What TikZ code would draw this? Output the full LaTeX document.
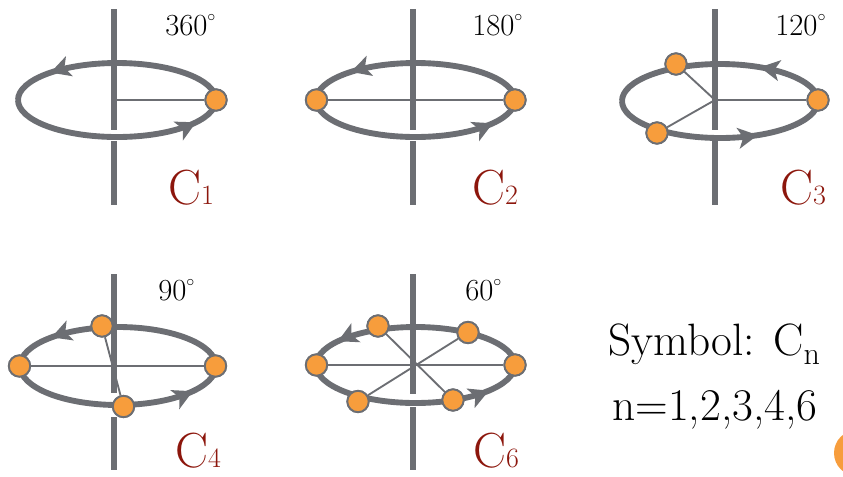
\documentclass[tikz,border=0pt]{standalone}
\usetikzlibrary{arrows.meta,decorations.markings}
\definecolor{axgray}{RGB}{108,110,115}
\definecolor{ptorange}{RGB}{247,157,60}
\definecolor{lblred}{RGB}{140,22,12}
\tikzset{
  axisline/.style={draw=axgray,line width=4.8pt},
  orbit/.style={draw=axgray,line width=4.4pt},
  spoke/.style={draw=axgray,line width=1.4pt},
  atom/.style={circle,fill=ptorange,draw=axgray,line width=1.4pt,minimum size=16pt,inner sep=0pt},
  arrowat/.style={postaction={decorate,decoration={markings,mark=at position #1 with {\arrow{Stealth[length=15pt,width=16pt,inset=4pt,line width=0pt]}}}}},
  deg/.style={anchor=base west,inner sep=0pt,font=\fontsize{23}{26}\selectfont},
  clabel/.style={anchor=base west,inner sep=0pt,text=lblred},
  bigtext/.style={anchor=base west,inner sep=0pt,font=\fontsize{34}{38}\selectfont},
}
\newcommand{\clab}[1]{{\fontsize{37}{40}\selectfont C}{\fontsize{21}{24}\selectfont #1}}
\newcommand{\degring}{\raisebox{1pt}{$^{\scriptscriptstyle\circ}$}}
\begin{document}
\begin{tikzpicture}[x=0.75pt,y=-0.75pt]
\useasboundingbox (0,0) rectangle (843,476);
\clip (0,0) rectangle (843,476);
% ---------- C1 ----------
\draw[orbit,arrowat=0.80] (216,100) arc[start angle=0,end angle=180,x radius=74.25pt,y radius=27.75pt];
\coordinate (a1t) at (114,9); \coordinate (a1m) at (114,130);
\coordinate (a1n) at (114,141); \coordinate (a1b) at (114,205);
\draw[axisline] (a1t) -- (a1m); \draw[axisline] (a1n) -- (a1b);
\coordinate (c1) at (114,100);
\node[atom] (p11) at (216,100) {};
\draw[spoke] (c1) -- (p11);
\draw[orbit,arrowat=0.86] (18,100) arc[start angle=180,end angle=360,x radius=74.25pt,y radius=27.75pt];
\node[atom] at (p11) {};
\node[deg] (d1) at (165,35) {360\degring};
\node[clabel] (l1) at (168,204) {\clab{1}};
% ---------- C2 ----------
\draw[orbit,arrowat=0.79] (515,100) arc[start angle=0,end angle=180,x radius=74.6pt,y radius=27.75pt];
\coordinate (a2t) at (413,9); \coordinate (a2m) at (413,130);
\coordinate (a2n) at (413,141); \coordinate (a2b) at (413,205);
\draw[axisline] (a2t) -- (a2m); \draw[axisline] (a2n) -- (a2b);
\node[atom] (p21) at (316.5,100) {};
\node[atom] (p22) at (515,100) {};
\draw[spoke] (p21) -- (p22);
\draw[orbit,arrowat=0.85] (316,100) arc[start angle=180,end angle=360,x radius=74.6pt,y radius=27.75pt];
\node[atom] at (p21) {}; \node[atom] at (p22) {};
\node[deg] (d2) at (472,35) {180\degring};
\node[clabel] (l2) at (472,204) {\clab{2}};
% ---------- C3 ----------
\draw[orbit,arrowat=0.32] (818,101) arc[start angle=0,end angle=180,x radius=73.5pt,y radius=27.75pt];
\coordinate (a3t) at (715,9); \coordinate (a3m) at (715,130);
\coordinate (a3n) at (715,141); \coordinate (a3b) at (715,205);
\draw[axisline] (a3t) -- (a3m); \draw[axisline] (a3n) -- (a3b);
\coordinate (c3) at (715,100);
\node[atom] (p31) at (818,100) {};
\node[atom] (p32) at (676,64) {};
\node[atom] (p33) at (657,133) {};
\draw[spoke] (c3) -- (p31); \draw[spoke] (c3) -- (p32); \draw[spoke] (c3) -- (p33);
\draw[orbit,arrowat=0.67] (622,101) arc[start angle=180,end angle=360,x radius=73.5pt,y radius=27.75pt];
\node[atom] at (p31) {}; \node[atom] at (p32) {}; \node[atom] at (p33) {};
\node[deg] (d3) at (775,35) {120\degring};
\node[clabel] (l3) at (780,204) {\clab{3}};
% ---------- C4 ----------
\draw[orbit,arrowat=0.80] (216,366) arc[start angle=0,end angle=180,x radius=73.5pt,y radius=29.25pt];
\coordinate (a4t) at (114,274); \coordinate (a4m) at (114,393);
\coordinate (a4n) at (114,417); \coordinate (a4b) at (114,470);
\draw[axisline] (a4t) -- (a4m); \draw[axisline] (a4n) -- (a4b);
\node[atom] (p41) at (19.5,366) {};
\node[atom] (p42) at (102,326) {};
\node[atom] (p43) at (215.5,366) {};
\node[atom] (p44) at (123.5,406.5) {};
\draw[spoke] (p41) -- (p43); \draw[spoke] (p42) -- (p44);
\draw[orbit,arrowat=0.84] (20,366) arc[start angle=180,end angle=360,x radius=73.5pt,y radius=29.25pt];
\node[atom] at (p41) {}; \node[atom] at (p42) {}; \node[atom] at (p43) {}; \node[atom] at (p44) {};
\node[deg] (d4) at (158,300) {90\degring};
\node[clabel] (l4) at (175,467) {\clab{4}};
% ---------- C6 ----------
\draw[orbit,arrowat=0.85] (515,365) arc[start angle=0,end angle=180,x radius=74.6pt,y radius=28.5pt];
\coordinate (a6t) at (413,274); \coordinate (a6m) at (413,394);
\coordinate (a6n) at (413,407); \coordinate (a6b) at (413,470);
\draw[axisline] (a6t) -- (a6m); \draw[axisline] (a6n) -- (a6b);
\node[atom] (p61) at (316.5,365) {};
\node[atom] (p62) at (378,326) {};
\node[atom] (p63) at (468,332.5) {};
\node[atom] (p64) at (515,365) {};
\node[atom] (p65) at (453,400) {};
\node[atom] (p66) at (358,401.5) {};
\draw[spoke] (p61) -- (p64); \draw[spoke] (p62) -- (p65); \draw[spoke] (p63) -- (p66);
\draw[orbit,arrowat=0.83] (316,365) arc[start angle=180,end angle=360,x radius=74.6pt,y radius=28.5pt];
\foreach \p in {p61,p62,p63,p64,p65,p66} {\node[atom] at (\p) {};}
\node[deg] (d6) at (465,300) {60\degring};
\node[clabel] (l6) at (473,467) {\clab{6}};
% ---------- text ----------
\node[bigtext] (sym) at (608,355) {Symbol: C\raisebox{-7pt}{\fontsize{24}{24}\selectfont n}};
\node[bigtext] (nvals) at (612,420) {n=1,2,3,4,6};
\node[circle,fill=ptorange,minimum size=34.5pt,inner sep=0pt] (deco) at (857,453) {};
\end{tikzpicture}
\end{document}
